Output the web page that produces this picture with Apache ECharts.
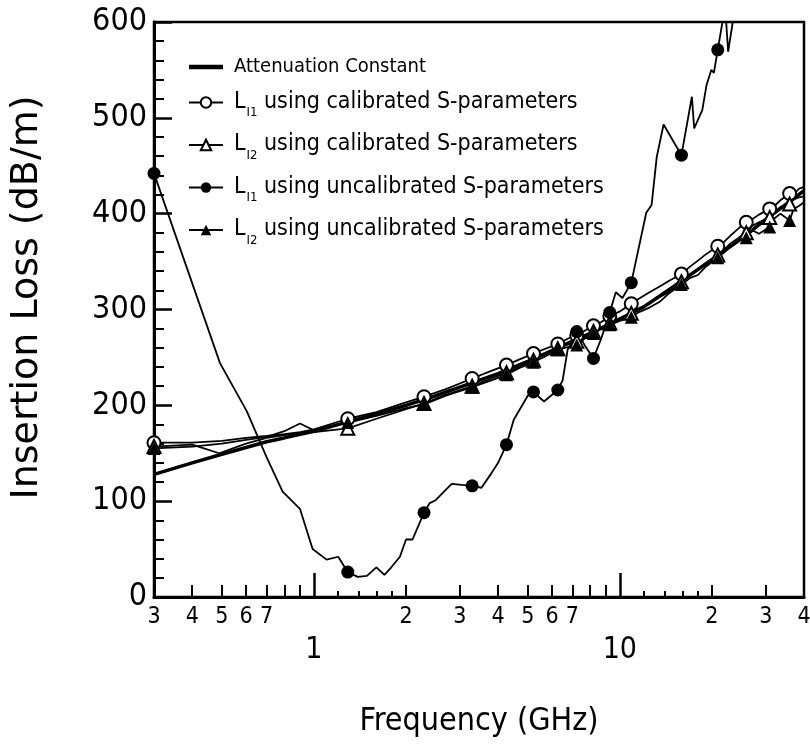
<!DOCTYPE html>
<html><head><meta charset="utf-8">
<script src="https://cdn.jsdelivr.net/npm/echarts@6.0.0/dist/echarts.min.js"></script>
<style>html,body{margin:0;padding:0;background:#fff}#chart{width:810px;height:749px}</style>
</head><body><div id="chart"></div>
<script>
// ---- data (frequency in GHz, insertion loss in dB/m) ----
const attFreq = [0.3,0.4,0.5,0.6,0.7,0.8,1.0,1.3,1.6,2.0,2.5,3.0,4.0,5.0,6.0,7.0,8.0,10,12,15,20,25,30,35,40];
const attVal  = [128,140,149,156,162,166,173,183,191,200,210,219,233,246,257,267,275,290,303,324,352,374,394,410,424];

const calL1Freq = [0.3,0.4,0.5,0.6,0.7,0.8,0.9,1.0,1.29,1.6,2.0,2.29,2.7,3.29,3.8,4.26,4.7,5.22,5.7,6.27,6.8,7.23,7.7,8.2,8.7,9.27,10.0,10.9,11.5,12.5,13.5,14.5,15.9,17,18,19,20.9,22,23,24.5,25.9,27,28.5,30.9,32,33.5,35.9,37,38.5,40];
const calL1Val  = [161,161,163,166,168,170,172,175,186,193,203,209,217,228,236,242,248,254,259,264,270,273,278,283,287,293,298,306,311,318,324,330,337,345,351,357,366,371,377,385,391,394,399,405,408,414,421,420,426,428];

const calL2Freq = [0.3,0.4,0.49,0.6,0.7,0.8,0.9,1.0,1.29,1.6,2.0,2.29,2.7,3.29,3.8,4.26,4.7,5.22,5.7,6.27,6.8,7.23,7.7,8.2,8.7,9.27,10.0,10.9,11.5,12.5,13.5,14.5,15.9,17,18,19,20.9,22,23,24.5,25.9,27,28.5,30.9,32,33.5,35.9,37,38.5,40];
const calL2Val  = [157,159,150,160,166,169,171,172,176,186,196,202,211,220,228,234,240,247,253,259,264,267,272,277,281,286,291,296,300,306,313,318,329,336,342,348,357,363,369,375,380,387,391,396,401,407,410,415,417,418];

const uncalL1Freq = [0.3,0.493,0.603,0.70,0.79,0.90,0.99,1.10,1.20,1.29,1.39,1.49,1.6,1.70,1.79,1.91,2.0,2.1,2.29,2.39,2.50,2.82,3.04,3.29,3.53,3.8,4.0,4.26,4.5,5.0,5.22,5.65,6.27,6.5,6.75,7.23,7.7,8.2,8.7,9.27,9.7,10.2,10.9,12.2,12.7,13.2,13.9,15.9,17.2,17.5,18.6,19.2,19.9,20.3,20.9,21.6,22.0,22.6,23.4,24.5];
const uncalL1Val  = [442,244,194,146,110,92,50,39,42,26,21,22,31,23,31,42,60,60,88,98,101,118,117,116,114,129,140,159,185,210,214,204,216,226,258,277,262,249,270,297,318,312,328,401,409,459,493,461,522,489,508,534,550,547,571,598,625,569,600,680];

const uncalL2Freq = [0.3,0.4,0.5,0.6,0.7,0.8,0.9,1.0,1.29,1.6,2.0,2.29,2.7,3.29,3.8,4.26,4.7,5.22,5.7,6.27,6.8,7.23,7.7,8.2,8.7,9.27,10.0,10.9,11.5,12.5,13.5,14.5,15.9,17,18,19,20.9,22,23,24.5,25.9,27,28.5,30.9,32,33.5,35.9,37,38.5,40];
const uncalL2Val  = [155,157,160,164,167,173,181,174,182,189,197,201,210,219,226,232,239,245,251,258,261,263,270,275,280,284,288,292,297,302,308,317,326,333,336,344,354,360,366,372,375,383,379,386,395,400,393,405,408,412];

// frequencies at which a marker is drawn
const calMarkers   = [0.3,1.29,2.29,3.29,4.26,5.22,6.27,7.23,8.2,9.27,10.9,15.9,20.9,25.9,30.9,35.9];
const uncalL1Markers = [0.3,1.29,2.29,3.29,4.26,5.22,6.27,7.23,8.2,9.27,10.9,15.9,20.9];

// axis ticks (GHz)
const xMin = 0.3, xMax = 40;
const minorTickFreqs = [0.4,0.5,0.6,0.7,0.8,0.9,2,3,4,5,6,7,8,9,20,30];
const minorLabelFreqs = [0.3,0.4,0.5,0.6,0.7,2,3,4,5,6,7,20,30,40];
const majorFreqs = [1,10];
const subTickFreqs = [1.2,1.4,1.6,1.8,12,14,16,18];
const yTicks = {min:0, max:600, step:100};

const seriesNames = [
  'Attenuation Constant',
  'LI1 using calibrated S-parameters',
  'LI2 using calibrated S-parameters',
  'LI1 using uncalibrated S-parameters',
  'LI2 using uncalibrated S-parameters'
];
const legendRich = {
  'Attenuation Constant': '{a|Attenuation Constant}',
  'LI1 using calibrated S-parameters': '{m|L}{s|I1}{m| using calibrated S-parameters}',
  'LI2 using calibrated S-parameters': '{m|L}{s|I2}{m| using calibrated S-parameters}',
  'LI1 using uncalibrated S-parameters': '{m|L}{s|I1}{m| using uncalibrated S-parameters}',
  'LI2 using uncalibrated S-parameters': '{m|L}{s|I2}{m| using uncalibrated S-parameters}'
};

// ---- build ----
const L = Math.log10;
const NARROW = "'Liberation Sans Narrow','Arial Narrow','DejaVu Sans Condensed',sans-serif";
function near(a, list){ return list.some(v => Math.abs(v - a) < 1e-6); }
function build(freq, val, markers){
  return freq.map((f,i) => {
    const it = {value:[L(f), val[i]]};
    if (!markers || !near(f, markers)) it.symbol = 'none';
    return it;
  });
}
function lineSeries(name, data, symbol, size, width){
  return {
    name, type:'line', data, symbol, symbolSize:size,
    showSymbol:true, showAllSymbol:true, clip:true,
    lineStyle:{color:'#000', width}, itemStyle:{color:'#000'},
    emphasis:{disabled:true}, z: 2
  };
}
const digitLabel = v => String(Math.round(Math.pow(10, v - Math.floor(v + 1e-9))));

const chart = echarts.init(document.getElementById('chart'), null, {renderer:'canvas'});
const baseX = {type:'value', min:L(xMin), max:L(xMax), position:'bottom', splitLine:{show:false}};
chart.setOption({
  animation:false,
  backgroundColor:'#fff',
  grid:{left:154, right:6, top:22, bottom:152, show:true, borderColor:'#000', borderWidth:2.5,
        containLabel:false, outerBoundsMode:'none'},
  legend:{
    orient:'vertical', left:188, top:57, padding:0, itemGap:13.5, itemWidth:34, itemHeight:13,
    selectedMode:false,
    data:[{name:seriesNames[0], icon:'path://M0,0L34,0L34,4.5L0,4.5Z'}].concat(seriesNames.slice(1).map(n => ({name:n}))),
    formatter: n => legendRich[n],
    textStyle:{color:'#000', fontFamily:NARROW, padding:[0,0,0,6],
      rich:{
        a:{fontSize:20, lineHeight:27, fontFamily:NARROW, color:'#000'},
        m:{fontSize:23, lineHeight:24, verticalAlign:'top', fontFamily:NARROW, color:'#000'},
        s:{fontSize:13, lineHeight:12, padding:[16,0,0,1], verticalAlign:'top', fontFamily:NARROW, color:'#000'}
      }}
  },
  xAxis:[
    Object.assign({}, baseX, {
      axisLine:{show:true, onZero:false, lineStyle:{color:'#000', width:3}},
      axisTick:{show:true, inside:true, length:12, lineStyle:{color:'#000', width:2},
        customValues: minorTickFreqs.map(L)},
      axisLabel:{show:true, customValues: minorLabelFreqs.map(L), formatter: digitLabel,
        fontSize:23, fontFamily:NARROW, color:'#000', margin:9},
      name:'Frequency (GHz)', nameLocation:'middle', nameGap:109,
      nameTextStyle:{fontSize:32, fontFamily:NARROW, color:'#000'}
    }),
    Object.assign({}, baseX, {
      axisLine:{show:false, onZero:false},
      axisTick:{show:true, inside:true, length:24, lineStyle:{color:'#000', width:2.5},
        customValues: majorFreqs.map(L)},
      axisLabel:{show:true, customValues: majorFreqs.map(L), formatter: v => String(Math.round(Math.pow(10, v))),
        fontSize:30, fontFamily:NARROW, color:'#000', margin:38}
    }),
    Object.assign({}, baseX, {
      axisLine:{show:false, onZero:false},
      axisTick:{show:true, inside:true, length:6, lineStyle:{color:'#000', width:2},
        customValues: subTickFreqs.map(L)},
      axisLabel:{show:false}
    })
  ],
  yAxis:{
    type:'value', min:yTicks.min, max:yTicks.max, interval:yTicks.step,
    axisLine:{show:true, onZero:false, lineStyle:{color:'#000', width:3}},
    axisTick:{show:true, inside:true, length:18, lineStyle:{color:'#000', width:2.5}},
    minorTick:{show:true, splitNumber:5, length:10, lineStyle:{color:'#000', width:2}},
    splitLine:{show:false},
    axisLabel:{fontSize:32, fontFamily:NARROW, color:'#000', margin:7},
    name:'Insertion Loss (dB/m)', nameLocation:'middle', nameGap:108,
    nameTextStyle:{fontSize:38, fontFamily:"'DejaVu Sans',sans-serif", color:'#000', padding:[0,0,0,24]}
  },
  series:[
    lineSeries(seriesNames[0], build(attFreq, attVal, null), 'none', 0, 3.5),
    lineSeries(seriesNames[1], build(calL1Freq, calL1Val, calMarkers), 'emptyCircle', 13, 1.8),
    lineSeries(seriesNames[2], build(calL2Freq, calL2Val, calMarkers), 'emptyTriangle', 13, 1.8),
    lineSeries(seriesNames[3], build(uncalL1Freq, uncalL1Val, uncalL1Markers), 'circle', 13, 1.8),
    lineSeries(seriesNames[4], build(uncalL2Freq, uncalL2Val, calMarkers), 'triangle', 13, 1.8)
  ]
});
</script>
</body></html>
